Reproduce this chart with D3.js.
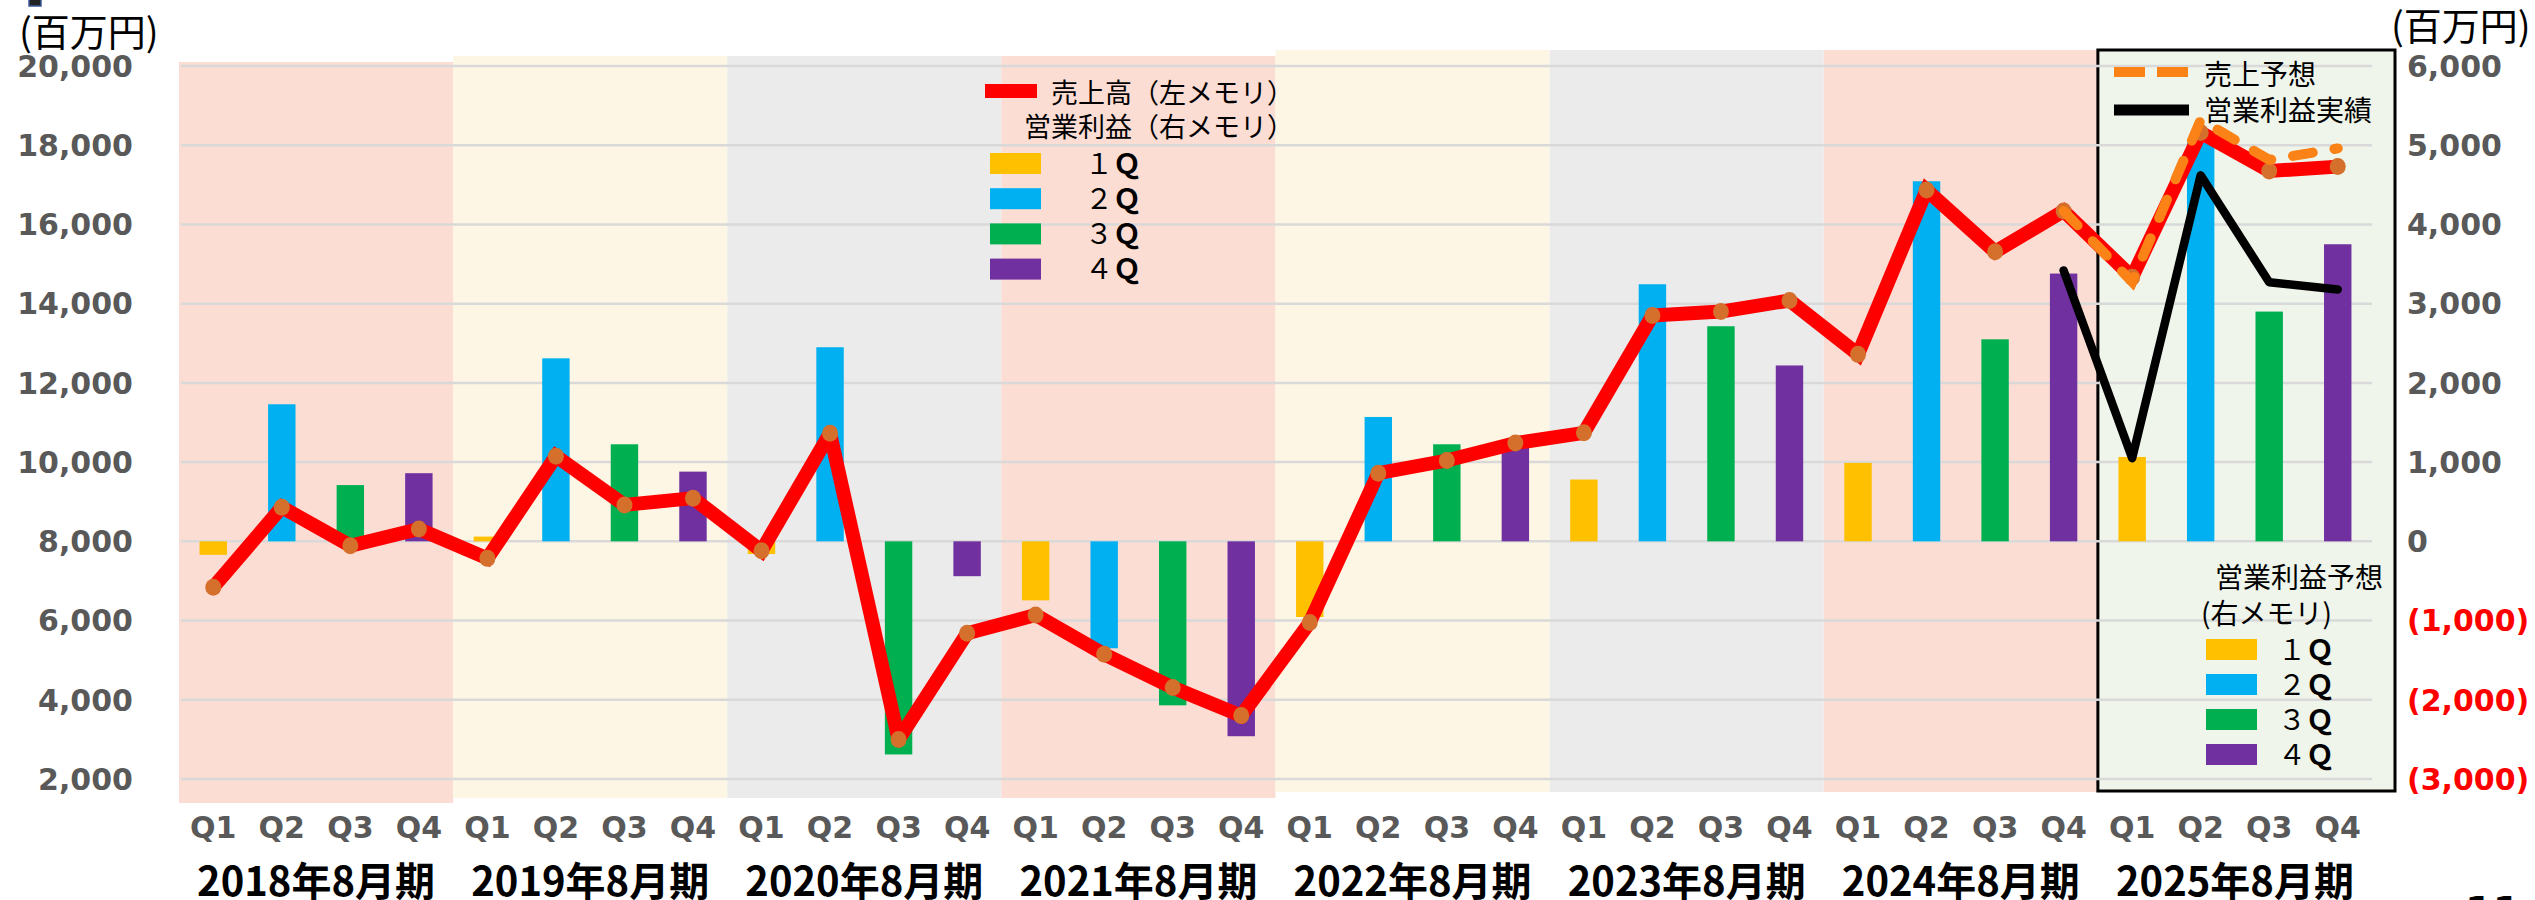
<!DOCTYPE html>
<html>
<head>
<meta charset="utf-8">
<script src="https://cdn.jsdelivr.net/npm/d3@7"></script>
<style>
  body { margin: 0; background: #fff; }
  svg { display: block; }
</style>
</head>
<body>
<div id="visualization"></div>
<script>
// fiscal years and quarters on the x axis
var years = ["2018年8月期", "2019年8月期", "2020年8月期", "2021年8月期",
             "2022年8月期", "2023年8月期", "2024年8月期", "2025年8月期"];
var quarters = ["Q1", "Q2", "Q3", "Q4"];

// 売上高 (left axis, 百万円), one per quarter
var sales = [6840, 8860, 7890, 8310,  7570, 10150, 8920, 9090,
             7760, 10730, 3000, 5680,  6140, 5150, 4310, 3600,
             5950, 9720, 10040, 10480,  10740, 13700, 13800, 14080,
             12720, 16870, 15310, 16340,  14670, 18320, 17350, 17460];

// 営業利益 (right axis, 百万円), one per quarter
var profit = [-170, 1730, 710, 860,  60, 2310, 1225, 880,
              -160, 2450, -2690, -440,  -745, -1350, -2070, -2460,
              -955, 1570, 1225, 1280,  780, 3245, 2715, 2220,
              990, 4545, 2550, 3380,  1065, 5030, 2900, 3750];

// 売上予想 and 営業利益実績, from 2024 Q4 on
var forecastKeys = ["2024年8月期|Q4", "2025年8月期|Q1", "2025年8月期|Q2", "2025年8月期|Q3", "2025年8月期|Q4"];
var salesForecast = [16340, 14550, 18640, 17630, 17920];
var profitActual = [3420, 1050, 4620, 3270, 3180];

var leftTicks = d3.range(2000, 20001, 2000);
var rightTicks = d3.range(-3000, 6001, 1000);
var legendQuarters = ["１", "２", "３", "４"];

var quarterColors = ["#FFC000", "#00B0F0", "#00B050", "#7030A0"];
var bandColors = ["#FCDDD4", "#FEF6E4", "#EBEBEB", "#FCDDD4", "#FEF6E4", "#EBEBEB", "#FCDDD4", "#EFF5EA"];
var bandTops = [62, 56, 56, 56, 50, 50, 50, 50];
var bandBottoms = [803, 798, 798, 798, 792, 792, 792, 791];

var CJK = "'Noto Sans CJK JP', sans-serif";
var NUM = "'DejaVu Sans', sans-serif";

class QuarterlyChart {
  constructor() {
    this.width = 2535;
    this.height = 900;
    this.keys = [];
    var self = this;
    years.forEach(function (y) {
      quarters.forEach(function (q) { self.keys.push(y + "|" + q); });
    });
    this.buildScales();
    this.buildSvg();
    this.drawBands();
    this.drawGrid();
    this.drawAxes();
    this.drawBars();
    this.drawLines();
    this.drawLegends();
  }

  buildScales() {
    this.x = d3.scaleBand().domain(this.keys).range([179, 2372]).paddingInner(0.6).paddingOuter(0.3);
    this.step = this.x.step();
    this.yLeft = d3.scaleLinear().domain([2000, 20000]).range([779, 66]);
    this.yRight = d3.scaleLinear().domain([-3000, 6000]).range([779, 66]);
  }

  cx(key) {
    return this.x(key) + this.x.bandwidth() / 2;
  }

  buildSvg() {
    this.svg = d3.select("#visualization").append("svg")
      .attr("width", this.width)
      .attr("height", this.height);
  }

  drawBands() {
    var self = this;
    var x0 = this.x.range()[0];
    this.svg.append("g").selectAll("rect")
      .data(years)
      .enter().append("rect")
      .attr("x", function (d, i) { return x0 + i * 4 * self.step; })
      .attr("y", function (d, i) { return bandTops[i]; })
      .attr("width", function (d, i) { return i === years.length - 1 ? 4 * self.step + 23 : 4 * self.step; })
      .attr("height", function (d, i) { return bandBottoms[i] - bandTops[i]; })
      .attr("fill", function (d, i) { return bandColors[i]; })
      .attr("stroke", function (d, i) { return i === years.length - 1 ? "#000" : "none"; })
      .attr("stroke-width", 3);

    // small cut-off mark at top left
    this.svg.append("rect").attr("x", 29).attr("y", -2).attr("width", 12).attr("height", 8)
      .attr("fill", "#222").attr("stroke", "#3b5998").attr("stroke-width", 1.5);
  }

  drawGrid() {
    var self = this;
    this.svg.append("g").selectAll("line")
      .data(leftTicks)
      .enter().append("line")
      .attr("x1", 181).attr("x2", 2372)
      .attr("y1", function (d) { return self.yLeft(d); })
      .attr("y2", function (d) { return self.yLeft(d); })
      .attr("stroke", "#D9D9D9")
      .attr("stroke-width", 2.5);
  }

  drawAxes() {
    var self = this;
    var fmt = d3.format(",");

    this.svg.append("g").selectAll("text")
      .data(leftTicks)
      .enter().append("text")
      .attr("x", 133)
      .attr("y", function (d) { return self.yLeft(d); })
      .attr("dy", "0.36em")
      .attr("text-anchor", "end")
      .style("font", "bold 30px " + NUM)
      .attr("fill", "#595959")
      .text(function (d) { return fmt(d); });

    this.svg.append("g").selectAll("text")
      .data(rightTicks)
      .enter().append("text")
      .attr("x", 2407)
      .attr("y", function (d) { return self.yRight(d); })
      .attr("dy", "0.36em")
      .style("font", "bold 30px " + NUM)
      .attr("fill", function (d) { return d < 0 ? "#FF0000" : "#595959"; })
      .text(function (d) { return d < 0 ? "(" + fmt(-d) + ")" : fmt(d); });

    this.svg.append("g").selectAll("text")
      .data(this.keys)
      .enter().append("text")
      .attr("x", function (d) { return self.cx(d); })
      .attr("y", 827)
      .attr("dy", "0.36em")
      .attr("text-anchor", "middle")
      .style("font", "bold 30px " + NUM)
      .attr("fill", "#595959")
      .text(function (d) { return d.split("|")[1]; });

    this.svg.append("g").selectAll("text")
      .data(years)
      .enter().append("text")
      .attr("x", function (d) { return self.x(d + "|Q1") - self.step * 0.3 + self.step * 2; })
      .attr("y", 896)
      .attr("text-anchor", "middle")
      .style("font", "bold 40px " + CJK)
      .attr("fill", "#000")
      .text(function (d) { return d; });

    this.svg.append("text").attr("x", 19).attr("y", 46)
      .style("font", "38px " + CJK).text("(百万円)");
    this.svg.append("text").attr("x", 2391).attr("y", 40)
      .style("font", "38px " + CJK).text("(百万円)");
    this.svg.append("text").attr("x", 2465).attr("y", 926)
      .style("font", "bold 40px " + NUM).text("11");
  }

  drawBars() {
    var self = this;
    var y0 = this.yRight(0);
    this.svg.append("g").selectAll("rect")
      .data(profit)
      .enter().append("rect")
      .attr("x", function (d, i) { return self.x(self.keys[i]); })
      .attr("width", this.x.bandwidth())
      .attr("y", function (d) { return Math.min(y0, self.yRight(d)); })
      .attr("height", function (d) { return Math.abs(self.yRight(d) - y0); })
      .attr("fill", function (d, i) { return quarterColors[i % 4]; });
  }

  drawLines() {
    var self = this;
    var salesLine = d3.line()
      .x(function (d, i) { return self.cx(self.keys[i]); })
      .y(function (d) { return self.yLeft(d); });

    this.svg.append("path")
      .attr("d", salesLine(sales))
      .attr("fill", "none")
      .attr("stroke", "#FF0000")
      .attr("stroke-width", 14)
      .attr("stroke-linejoin", "miter")
      .attr("stroke-miterlimit", 2.2);

    this.svg.append("g").selectAll("ellipse")
      .data(sales)
      .enter().append("ellipse")
      .attr("cx", function (d, i) { return self.cx(self.keys[i]); })
      .attr("cy", function (d) { return self.yLeft(d); })
      .attr("rx", 8).attr("ry", 8.5)
      .attr("fill", "#D46F2C");

    var forecastLine = d3.line()
      .x(function (d, i) { return self.cx(forecastKeys[i]); })
      .y(function (d) { return self.yLeft(d); });

    this.svg.append("path")
      .attr("d", forecastLine(salesForecast))
      .attr("fill", "none")
      .attr("stroke", "#FA8216")
      .attr("stroke-width", 10)
      .attr("stroke-linecap", "round")
      .attr("stroke-dasharray", "20,22");

    var actualLine = d3.line()
      .x(function (d, i) { return self.cx(forecastKeys[i]); })
      .y(function (d) { return self.yRight(d); });

    this.svg.append("path")
      .attr("d", actualLine(profitActual))
      .attr("fill", "none")
      .attr("stroke", "#000")
      .attr("stroke-width", 8.5)
      .attr("stroke-linecap", "round")
      .attr("stroke-linejoin", "round");
  }

  quarterLegend(xRect, xText, yStart, gap) {
    var g = this.svg.append("g");
    legendQuarters.forEach(function (q, i) {
      var cy = yStart + i * gap;
      g.append("rect").attr("x", xRect).attr("y", cy - 10.5)
        .attr("width", 51).attr("height", 21).attr("fill", quarterColors[i]);
      var t = g.append("text").attr("x", xText).attr("y", cy).attr("dy", "0.36em")
        .style("font", "28px " + CJK);
      t.append("tspan").text(q);
      t.append("tspan").style("font-weight", "bold").text("Ｑ");
    });
  }

  drawLegends() {
    // left legend
    this.svg.append("line").attr("x1", 985).attr("x2", 1037).attr("y1", 91).attr("y2", 91)
      .attr("stroke", "#FF0000").attr("stroke-width", 14);
    this.svg.append("text").attr("x", 1051).attr("y", 93).attr("dy", "0.36em")
      .style("font", "27px " + CJK).text("売上高（左メモリ）");
    this.svg.append("text").attr("x", 1024).attr("y", 127).attr("dy", "0.36em")
      .style("font", "27px " + CJK).text("営業利益（右メモリ）");
    this.quarterLegend(990, 1085, 163.5, 35.2);

    // box legend, top
    this.svg.append("line").attr("x1", 2114).attr("x2", 2188).attr("y1", 72).attr("y2", 72)
      .attr("stroke", "#FA8216").attr("stroke-width", 10).attr("stroke-dasharray", "31,12");
    this.svg.append("text").attr("x", 2204).attr("y", 75).attr("dy", "0.36em")
      .style("font", "28px " + CJK).text("売上予想");
    this.svg.append("line").attr("x1", 2114).attr("x2", 2189).attr("y1", 110).attr("y2", 110)
      .attr("stroke", "#000").attr("stroke-width", 11);
    this.svg.append("text").attr("x", 2204).attr("y", 111).attr("dy", "0.36em")
      .style("font", "28px " + CJK).text("営業利益実績");

    // box legend, bottom
    this.svg.append("text").attr("x", 2215).attr("y", 578).attr("dy", "0.36em")
      .style("font", "28px " + CJK).text("営業利益予想");
    this.svg.append("text").attr("x", 2201).attr("y", 614).attr("dy", "0.36em")
      .style("font", "28px " + CJK).text("(右メモリ)");
    this.quarterLegend(2206, 2278, 649.5, 35);
  }
}

new QuarterlyChart();
</script>
</body>
</html>
